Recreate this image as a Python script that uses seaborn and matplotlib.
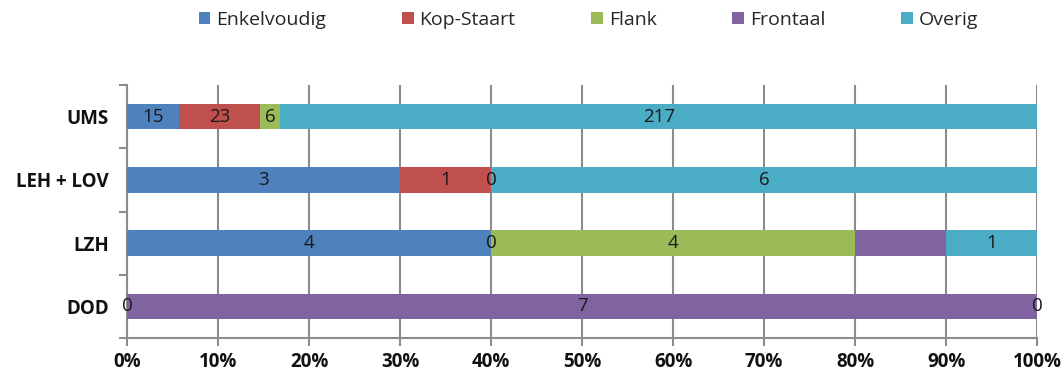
import matplotlib
matplotlib.use("Agg")
import matplotlib.pyplot as plt
import seaborn as sns
import numpy as np
import pandas as pd
from matplotlib.patches import Patch
from matplotlib.ticker import FixedLocator, PercentFormatter

# Categories (top to bottom) and series counts; None = no value entered
categories = ["UMS", "LEH + LOV", "LZH", "DOD"]
series_names = ["Enkelvoudig", "Kop-Staart", "Flank", "Frontaal", "Overig"]
enkelvoudig = [15, 3, 4, 0]
kop_staart = [23, 1, 0, None]
flank = [6, 0, 4, None]
frontaal = [None, None, 1, 7]
overig = [217, 6, 1, 0]
# segments whose value label is not shown
unlabeled = {("LZH", "Frontaal")}

colors = ["#4F81BD", "#C0504D", "#9BBB59", "#8064A2", "#4BACC6"]
x_ticks = [0, 10, 20, 30, 40, 50, 60, 70, 80, 90, 100]

counts = pd.DataFrame(
    {"Enkelvoudig": enkelvoudig, "Kop-Staart": kop_staart, "Flank": flank,
     "Frontaal": frontaal, "Overig": overig},
    index=categories,
)
filled = counts.fillna(0).astype(float)
pct = filled.div(filled.sum(axis=1), axis=0) * 100
cum_end = pct.cumsum(axis=1)
cum_start = cum_end - pct

sns.set_style("white")
plt.rcParams["font.family"] = ["Open Sans", "DejaVu Sans"]

fig = plt.figure(figsize=(10.64, 3.8), dpi=100)
ax = fig.add_axes([0.1194, 0.1105, 0.8553, 0.6658])

# vertical gridlines behind the bars
for t in x_ticks:
    ax.axvline(t, color="#8C8C8C", lw=1.5, zorder=0)

# stacked bars: draw cumulative totals from last series to first
for name, col in reversed(list(zip(series_names, colors))):
    df = pd.DataFrame({"cat": categories, "end": cum_end[name].values})
    sns.barplot(data=df, y="cat", x="end", order=categories, color=col,
                orient="h", width=0.4, ax=ax, saturation=1, zorder=2,
                edgecolor="none")

# value labels at segment centres
for i, cat in enumerate(categories):
    for name in series_names:
        v = counts.loc[cat, name]
        if pd.isna(v) or (cat, name) in unlabeled:
            continue
        xc = (cum_start.loc[cat, name] + cum_end.loc[cat, name]) / 2
        ax.text(xc, i, f"{int(v)}", ha="center", va="center",
                fontsize=13.5, color="#1a1a1a", zorder=5)

ax.set_xlim(0, 100)
ax.set_ylim(len(categories) - 0.5, -0.5)
ax.set_xlabel("")
ax.set_ylabel("")
ax.xaxis.set_major_locator(FixedLocator(x_ticks))
ax.xaxis.set_major_formatter(PercentFormatter(decimals=0))
ax.set_yticks(range(len(categories)))
ax.set_yticklabels(categories)
ax.yaxis.set_minor_locator(FixedLocator(np.arange(-0.5, len(categories), 1.0)))

for lbl in ax.get_xticklabels() + ax.get_yticklabels():
    lbl.set_fontweight("bold")
    lbl.set_fontsize(13.5)
    lbl.set_color("#111111")

ax.tick_params(axis="x", which="major", direction="out", length=6,
               width=1.5, color="#8C8C8C", pad=4, bottom=True)
ax.tick_params(axis="y", which="major", length=0, pad=13, left=True)
ax.tick_params(axis="y", which="minor", direction="out", length=6,
               width=1.5, color="#8C8C8C", left=True)

for side in ["top", "right"]:
    ax.spines[side].set_visible(False)
for side in ["left", "bottom"]:
    ax.spines[side].set_visible(True)
    ax.spines[side].set_color("#8C8C8C")
    ax.spines[side].set_linewidth(1.5)
    ax.spines[side].set_zorder(1)

handles = [Patch(facecolor=c, edgecolor="none") for c in colors]
fig.legend(handles, series_names, loc="center", ncol=5,
           bbox_to_anchor=(0.553, 0.948), frameon=False,
           handlelength=0.6, handleheight=0.6, handletextpad=0.3,
           columnspacing=3.9, fontsize=14)

fig.savefig("out.png", dpi=100)
